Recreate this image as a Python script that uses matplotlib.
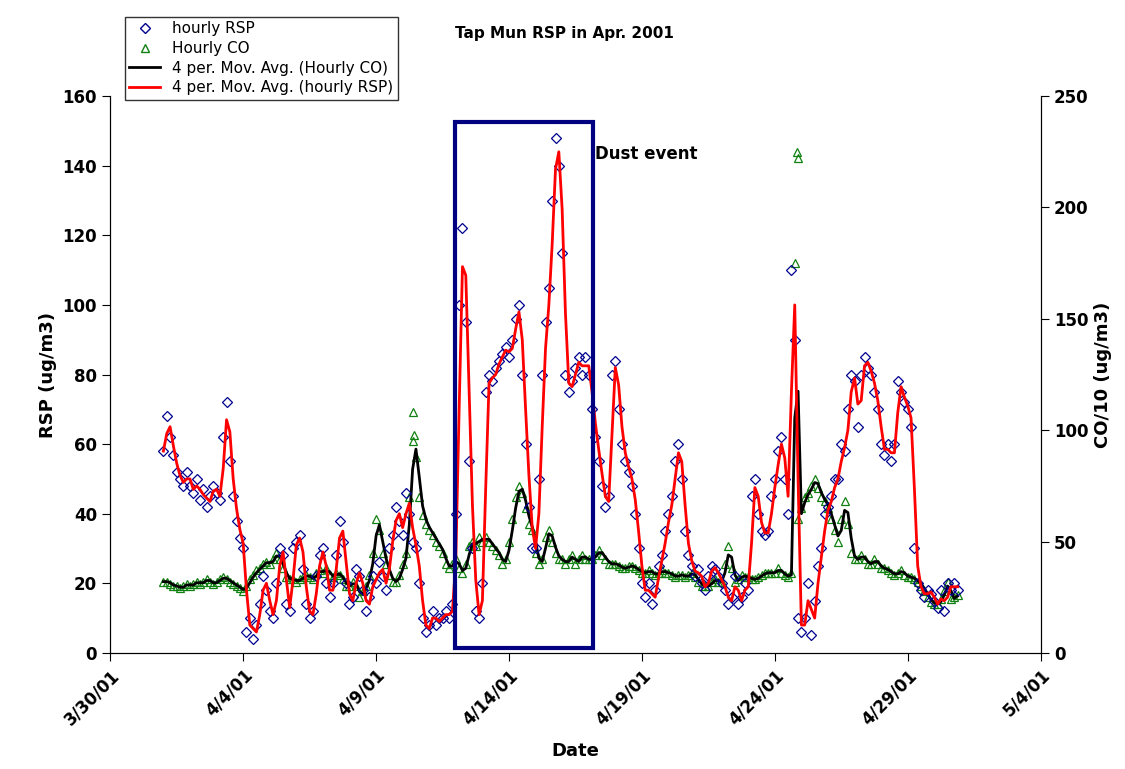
import numpy as np
import pandas as pd
import matplotlib.pyplot as plt
import matplotlib.dates as mdates
from matplotlib.patches import Rectangle
from matplotlib.lines import Line2D

# 3-hourly readings, 4/1/2001 00:00 to 4/30/2001 21:00
rsp = [
    58, 68, 62, 57, 52, 50, 48, 52,
    48, 46, 50, 44, 47, 42, 45, 48,
    46, 44, 62, 72, 55, 45, 38, 33,
    30, 6, 10, 4, 8, 14, 22, 18,
    12, 10, 20, 30, 28, 14, 12, 30,
    32, 34, 24, 14, 10, 12, 22, 28,
    30, 20, 16, 20, 28, 38, 32, 20,
    14, 16, 24, 22, 18, 12, 16, 22,
    20, 26, 22, 18, 30, 34, 42, 38,
    34, 46, 40, 32, 30, 20, 10, 6,
    8, 12, 8, 10, 10, 12, 10, 14,
    40, 100, 122, 95, 55, 30, 12, 10,
    20, 75, 80, 78, 82, 84, 86, 88,
    85, 90, 96, 100, 80, 60, 42, 30,
    30, 50, 80, 95, 105, 130, 148, 140,
    115, 80, 75, 78, 82, 85, 80, 85,
    80, 70, 62, 55, 48, 42, 45, 80,
    84, 70, 60, 55, 52, 48, 40, 30,
    20, 16, 20, 14, 18, 25, 28, 35,
    40, 45, 55, 60, 50, 35, 28, 25,
    22, 24, 20, 18, 22, 25, 24, 22,
    20, 18, 14, 16, 22, 14, 16, 20,
    18, 45, 50, 40, 35, 34, 35, 45,
    50, 58, 62, 50, 40, 110, 90, 10,
    6, 10, 20, 5, 15, 25, 30, 40,
    42, 45, 50, 50, 60, 58, 70, 80,
    78, 65, 80, 85, 82, 80, 75, 70,
    60, 57, 60, 55, 60, 78, 75, 72,
    70, 65, 30, 20, 18, 16, 18, 17,
    15, 13, 18, 12, 20, 18, 20, 18,
]
co10 = [
    32, 32, 31, 30, 30, 29, 30, 31,
    30, 31, 32, 31, 32, 33, 32, 31,
    32, 33, 34, 33, 32, 31, 30, 29,
    28, 30, 33, 35, 37, 38, 40, 41,
    40, 42, 45, 42, 38, 34, 33, 33,
    32, 33, 34, 35, 34, 33, 36, 37,
    36, 38, 35, 34, 36, 35, 33, 30,
    30, 32, 30, 25, 28, 30, 35, 45,
    60, 55, 45, 40, 35, 32, 32, 35,
    40, 45, 70, 95, 88, 70, 62, 58,
    55, 53, 50, 48, 45, 40, 38, 40,
    42, 38, 36, 40, 48, 50, 48, 52,
    50, 52, 50, 48, 46, 44, 40, 42,
    50, 60, 70, 75, 72, 65, 58, 55,
    45, 40, 42, 52, 55, 50, 45, 42,
    42, 40, 42, 44, 40, 42, 44, 42,
    42, 42, 44, 46, 44, 42, 40, 40,
    40, 39, 38, 38, 39, 39, 38, 37,
    36, 36, 37, 36, 35, 36, 37, 36,
    36, 35, 34, 35, 35, 34, 35, 36,
    34, 32, 30, 30, 30, 32, 33, 32,
    32, 40, 48, 38, 32, 33, 35, 34,
    34, 33, 33, 34, 35, 36, 36, 36,
    36, 38, 36, 35, 34, 36, 175, 60,
    65, 70, 72, 75, 78, 74, 70, 68,
    65, 60, 55, 50, 60, 68, 58, 45,
    42, 42, 44, 42, 40, 40, 42, 40,
    38, 38, 37, 36, 35, 36, 37, 35,
    34, 34, 33, 32, 30, 28, 25, 23,
    22, 22, 24, 28, 32, 24, 25, 26,
]
# a few high CO readings during spikes
co_peak_times = ["2001-04-10 09:00", "2001-04-10 10:00", "2001-04-24 20:00", "2001-04-24 20:30"]
co_peak_vals = [108, 98, 225, 222]

times = pd.date_range("2001-04-01 00:00", periods=len(rsp), freq="3h")
rsp_ma = pd.Series(rsp, index=times).rolling(2, min_periods=1).mean()
co_ma = pd.Series(co10, index=times).rolling(2, min_periods=1).mean()

fig = plt.figure(figsize=(11.25, 7.69), dpi=100)
ax = fig.add_axes([0.098, 0.151, 0.827, 0.724])
ax2 = ax.twinx()

ax2.plot(times, co10, linestyle="none", marker="^", mfc="none", mec="#108010", ms=6, mew=0.9)
ax2.plot(pd.to_datetime(co_peak_times), co_peak_vals, linestyle="none", marker="^",
         mfc="none", mec="#108010", ms=6, mew=0.9)
ax2.plot(times, co_ma, color="black", lw=2)
ax2.set_ylim(0, 250)
ax2.set_yticks(range(0, 251, 50))

ax.plot(times, rsp, linestyle="none", marker="D", mfc="none", mec="#000090", ms=5.5, mew=0.9)
ax.plot(times, rsp_ma, color="red", lw=2)
ax.set_ylim(0, 160)
ax.set_yticks(range(0, 161, 20))
ax.set_zorder(ax2.get_zorder() + 1)
ax.patch.set_visible(False)

start = pd.Timestamp("2001-03-30")
ax.set_xlim(start, pd.Timestamp("2001-05-04"))
xt = pd.date_range(start, periods=8, freq="5D")
ax.set_xticks(xt)
ax.set_xticklabels([f"{d.month}/{d.day}/01" for d in xt], rotation=45, ha="right",
                   rotation_mode="anchor", fontweight="bold", fontsize=11)

for a in (ax, ax2):
    a.spines["top"].set_visible(False)
    a.tick_params(direction="out", length=6, labelsize=12)
    for lbl in a.get_yticklabels():
        lbl.set_fontweight("bold")
ax.set_ylabel("RSP (ug/m3)", fontsize=13, fontweight="bold")
ax2.set_ylabel("CO/10 (ug/m3)", fontsize=13, fontweight="bold")
ax.set_xlabel("Date", fontsize=13, fontweight="bold", labelpad=10)

ax.add_patch(Rectangle((mdates.date2num(pd.Timestamp("2001-04-11 23:00")), 1.5),
                       5.2, 151, fill=False, ec="#000080", lw=3, zorder=5))
ax.text(pd.Timestamp("2001-04-17 06:00"), 142, "Dust event", fontsize=12, fontweight="bold")
fig.text(0.502, 0.957, "Tap Mun RSP in Apr. 2001", ha="center", va="center",
         fontsize=11, fontweight="bold")

handles = [
    Line2D([], [], ls="none", marker="D", mfc="none", mec="#000090", ms=5),
    Line2D([], [], ls="none", marker="^", mfc="none", mec="#108010", ms=6),
    Line2D([], [], color="black", lw=2),
    Line2D([], [], color="red", lw=2),
]
labels = ["hourly RSP", "Hourly CO", "4 per. Mov. Avg. (Hourly CO)", "4 per. Mov. Avg. (hourly RSP)"]
fig.legend(handles, labels, loc="upper left", bbox_to_anchor=(0.104, 0.988),
           fontsize=11, frameon=True, fancybox=False, edgecolor="black",
           borderpad=0.3, labelspacing=0.3, handlelength=2)

plt.savefig("out.png", dpi=100)
